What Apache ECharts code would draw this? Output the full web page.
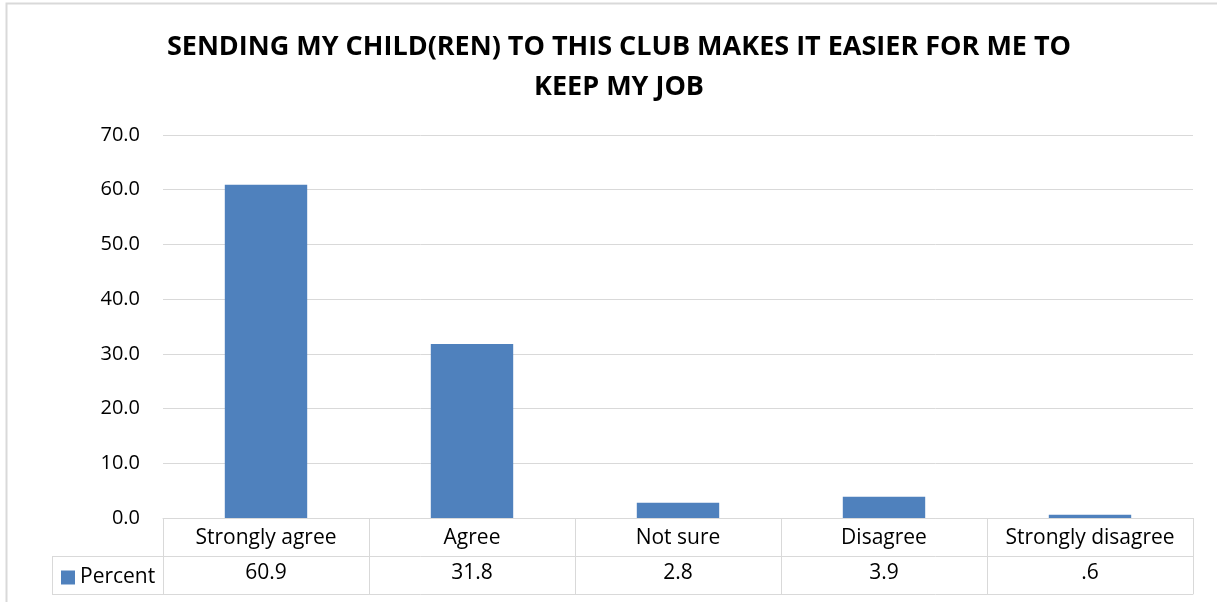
<!DOCTYPE html>
<html>
<head>
<meta charset="utf-8">
<script src="https://cdn.jsdelivr.net/npm/echarts@6/dist/echarts.min.js"></script>
<style>
html,body{margin:0;padding:0;background:#fff;}
#chart{width:1217px;height:602px;}
</style>
</head>
<body>
<div id="chart"></div>
<script>
const titleText = "SENDING MY CHILD(REN) TO THIS CLUB MAKES IT EASIER FOR ME TO\nKEEP MY JOB";
const categories = ["Strongly agree", "Agree", "Not sure", "Disagree", "Strongly disagree"];
const seriesName = "Percent";
const percentValues = [60.9, 31.8, 2.8, 3.9, 0.6];
const yTicks = [0, 10, 20, 30, 40, 50, 60, 70];

const W = 1217, H = 602;
const GRID_LEFT = 163, GRID_RIGHT = 24, GRID_TOP = 135, GRID_BOTTOM = 84;
const ROW_H = 38;
const TABLE_LEFT = 52;
const LINE_COLOR = '#d9d9d9';
const FONT = 'Open Sans';
const TITLE_FONT = 'Open Sans';

function fmtVal(v){ let s = v.toFixed(1); return s.replace(/^0\./, '.'); }

const axisY = H - GRID_BOTTOM;
const chart = echarts.init(document.getElementById('chart'), null, {renderer:'canvas'});
chart.setOption({
  animation:false,
  backgroundColor:'#fff',
  title:{
    text:titleText,
    left:614, top:22, textAlign:'center',
    textStyle:{fontFamily:TITLE_FONT, fontWeight:'bold', fontSize:27, color:'#000', lineHeight:40}
  },
  legend:{
    show:true, data:[{name:seriesName, icon:'rect'}],
    left:61, top:axisY + ROW_H + 11, itemWidth:14, itemHeight:14, padding:0, itemGap:5,
    textStyle:{fontFamily:FONT, fontSize:21, color:'#000', padding:[0,0,0,0]},
    selectedMode:false
  },
  grid:{left:GRID_LEFT, right:GRID_RIGHT, top:GRID_TOP, bottom:GRID_BOTTOM, containLabel:false},
  xAxis:[{
    type:'category', data:categories, position:'bottom',
    axisLine:{show:true, lineStyle:{color:LINE_COLOR, width:1}},
    axisTick:{show:true, length:ROW_H*2, lineStyle:{color:LINE_COLOR, width:1}},
    axisLabel:{fontFamily:FONT, fontSize:21, color:'#000', margin:10, interval:0}
  },{
    type:'category', data:categories, position:'bottom', offset:ROW_H,
    axisLine:{show:true, lineStyle:{color:LINE_COLOR, width:1}},
    axisTick:{show:false},
    axisLabel:{fontFamily:FONT, fontSize:21, color:'#000', margin:7, interval:0,
      formatter:function(v, i){ return fmtVal(percentValues[i]); }}
  },{
    type:'category', data:categories, position:'bottom', offset:ROW_H*2,
    axisLine:{show:true, lineStyle:{color:LINE_COLOR, width:1}},
    axisTick:{show:false}, axisLabel:{show:false}
  }],
  yAxis:{
    type:'value', min:yTicks[0], max:yTicks[yTicks.length-1], interval:10,
    axisLine:{show:false}, axisTick:{show:false},
    splitLine:{show:true, lineStyle:{color:LINE_COLOR, width:1}},
    axisLabel:{fontFamily:FONT, fontSize:20, color:'#000', margin:23,
      formatter:function(v){ return v.toFixed(1); }}
  },
  series:[{
    name:seriesName, type:'bar', data:percentValues, xAxisIndex:0,
    barCategoryGap:'60%', itemStyle:{color:'#4f81bd'}
  }],
  graphic:[
    {type:'rect', shape:{x:6.5, y:3.5, width:W, height:H}, style:{fill:'none', stroke:LINE_COLOR, lineWidth:2}, silent:true},
    {type:'line', shape:{x1:TABLE_LEFT, y1:axisY+ROW_H+0.5, x2:GRID_LEFT, y2:axisY+ROW_H+0.5}, style:{stroke:LINE_COLOR, lineWidth:1}},
    {type:'line', shape:{x1:TABLE_LEFT, y1:axisY+ROW_H*2+0.5, x2:GRID_LEFT, y2:axisY+ROW_H*2+0.5}, style:{stroke:LINE_COLOR, lineWidth:1}},
    {type:'line', shape:{x1:TABLE_LEFT+0.5, y1:axisY+ROW_H, x2:TABLE_LEFT+0.5, y2:axisY+ROW_H*2}, style:{stroke:LINE_COLOR, lineWidth:1}}
  ]
});
</script>
</body>
</html>
